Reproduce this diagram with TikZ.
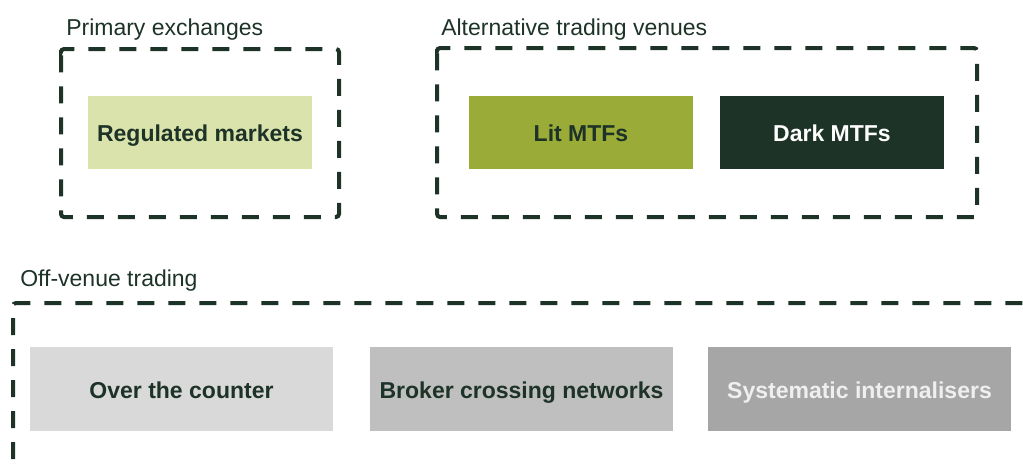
\documentclass[tikz,border=0pt]{standalone}
\usepackage{fontspec}
\setmainfont{Liberation Sans}

\definecolor{darkgreen}{HTML}{1D3327}
\definecolor{litgreen}{HTML}{9AAB38}
\definecolor{palegreen}{HTML}{D9E3AB}
\definecolor{lightgrey}{HTML}{D9D9D9}
\definecolor{midgrey}{HTML}{BFBFBF}
\definecolor{darkgrey}{HTML}{A6A6A6}
\definecolor{offwhite}{HTML}{EFEFEF}

\tikzset{
	frame/.style={draw=darkgreen, line width=3pt, dash pattern=on 12.75pt off 10.5pt, rounded corners=2.25pt},
	grouplabel/.style={anchor=base west, inner sep=0pt, text=darkgreen, font=\fontsize{17.25}{20}\selectfont},
	venue/.style={rectangle, inner sep=0pt, text height=14pt, text depth=0.5pt, minimum width=168pt, minimum height=54.75pt, font=\fontsize{17.25}{20}\selectfont\bfseries},
	offvenue/.style={venue, minimum width=227.25pt, minimum height=63pt}
}

\begin{document}
\begin{tikzpicture}[x=0.75pt, y=-0.75pt]

\useasboundingbox (0,0) rectangle (1023,472);
\clip (0,0) rectangle (1023,472);

% rows, in pixels from the top
\def\topRow{132.5}
\def\bottomRow{389}

\newcommand*{\dashframe}[4] {
	\draw [frame] (#1,#2+4) -- (#1,#2) -- (#3,#2) -- (#3,#4) -- (#1,#4) -- cycle;
}

% primary exchanges
\node [grouplabel] (primarylbl) at (66,35) {Primary exchanges};
\dashframe{61}{49}{339}{217}
\node [venue, fill=palegreen, text=darkgreen] (regulated) at (200,\topRow) {Regulated markets};

% alternative trading venues
\node [grouplabel] (altlbl) at (441,35) {Alternative trading venues};
\dashframe{437}{48}{977}{217}
\node [venue, fill=litgreen, text=darkgreen] (lit) at (581,\topRow) {Lit MTFs};
\node [venue, fill=darkgreen, text=white] (dark) at (832,\topRow) {Dark MTFs};

% off-venue trading, runs off the page
\node [grouplabel] (offlbl) at (20,286.5) {Off-venue trading};
\draw [frame] (13,490) -- (13,303) -- (1045,303);

\foreach \name/\cx/\bg/\fg/\txt in {otc/181.5/lightgrey/darkgreen/Over the counter,
		bcn/521.5/midgrey/darkgreen/Broker crossing networks,
		si/859.5/darkgrey/offwhite/Systematic internalisers} {
	\node [offvenue, fill=\bg, text=\fg] (\name) at (\cx,\bottomRow) {\txt};
}

\end{tikzpicture}
\end{document}
